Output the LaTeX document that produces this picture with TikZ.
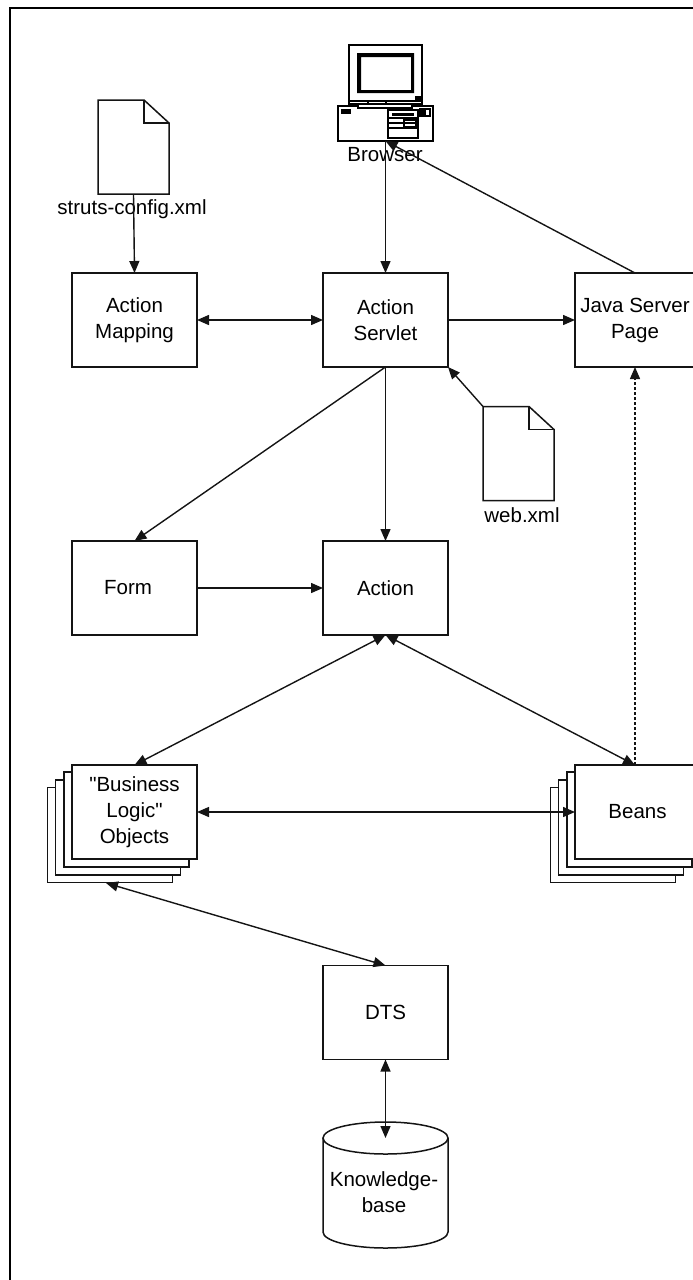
\documentclass[tikz,border=0pt]{standalone}
\usepackage{fontspec}
\setmainfont{Liberation Sans}[Ligatures=TeXOff]
\usetikzlibrary{arrows.meta}
\definecolor{inkline}{RGB}{20,20,20}

% outline of a sheet with a folded corner, drawn round a named node
\newcommand{\foldsheet}[1]{
	\draw[sheetline] (#1.north west) -- ++(46,0) -- ++(25,23) |- (#1.south west) -- cycle;
	\draw[sheetline] (#1.north west) ++(46,0) -- ++(0,23) -- ++(25,0);
}

\begin{document}
\begin{tikzpicture}[
		x=1pt, y=-1pt,
		every node/.style={font=\fontsize{20.5}{26}\selectfont, align=center, inner sep=0pt, outer sep=0pt},
		boxnode/.style={shape=rectangle, draw=inkline, line width=1.5pt, fill=white, minimum width=125pt, minimum height=94pt},
		cardnode/.style={boxnode, minimum height=95pt},
		sheetnode/.style={shape=rectangle, minimum width=71pt, minimum height=94pt},
		sheetline/.style={draw=inkline, line width=1.5pt, line join=miter},
		towards/.style={draw=inkline, line width=1.4pt, -{Triangle[length=12pt,width=10pt]}},
		bothways/.style={draw=inkline, line width=1.4pt, {Triangle[length=12pt,width=10pt]}-{Triangle[length=12pt,width=10pt]}},
		pcline/.style={draw=black, line width=1.2pt}
		]
		\useasboundingbox (0,0) rectangle (693,1280);
		\draw[black, line width=2.2pt] (10,1280) -- (10,8) -- (693,8);

		% browser
		\node[minimum width=95pt, minimum height=96pt] (pc) at (385.5,93) {};
		\draw[pcline] (349,45) rectangle (422,104);
		\draw[pcline] (349,101) -- (422,101);
		\draw[pcline] (368,101) -- (368,104) (386,101) -- (386,104);
		\fill[black, even odd rule] (357,53) rectangle (414,93) (361,57) rectangle (411,90);
		\fill[black] (415,96) rectangle (421,100);
		\draw[pcline] (338,106) rectangle (433,141);
		\draw[pcline, fill=white] (358,104) rectangle (412,108);
		\fill[black] (341,109) rectangle (351,114);
		\draw[pcline] (388,110) rectangle (418,138);
		\fill[black] (392,113) rectangle (414,116);
		\draw[pcline] (388,118) -- (418,118) (388,123) -- (418,123) (388,128) -- (418,128);
		\draw[pcline] (404,120) rectangle (416,127);
		\draw[pcline] (420,109) rectangle (430,116);
		\fill[black] (421,110) rectangle (426,115);
		\node (browser) at (385,155) {Browser};

		% xml sheets
		\node[sheetnode] (struts) at (133.5,147) {};
		\foldsheet{struts}
		\node (strutslabel) at (132,209) {struts-config.xml};
		\node[sheetnode] (webxml) at (518.5,453.5) {};
		\foldsheet{webxml}
		\node (weblabel) at (522,515) {web.xml};

		% main boxes
		\node[boxnode] (mapping) at (134.5,320) {Action\\Mapping};
		\node[boxnode] (servlet) at (385.5,320) {Action\\Servlet};
		\node[boxnode] (jsp) at (637.5,320) {\hspace*{-5pt}Java Server\\\hspace*{-5pt}Page};
		\node[boxnode] (form) at (134.5,588) {Form\hspace*{13pt}};
		\node[boxnode] (action) at (385.5,588) {Action};
		\node[boxnode] (dts) at (385.5,1012.5) {DTS};
		\coordinate (jsptop) at (635,273);
		\coordinate (jspfoot) at (635,367);

		% stacked cards
		\foreach \i in {3,2,1} {
			\node[cardnode] (objects\i) at (134.5-8.2*\i,812+7.7*\i) {};
			\node[cardnode] (beans\i) at (637.5-8.2*\i,812+7.7*\i) {};
		}
		\node[boxnode] (objects) at (134.5,812) {"Business\\Logic"\\Objects};
		\node[boxnode] (beans) at (637.5,812) {Beans};
		\coordinate (objectsfoot) at (106,883);
		\coordinate (beanstop) at (635,765);

		% knowledge base
		\node[minimum width=125pt, minimum height=126pt] (kbase) at (385.5,1185) {};
		\draw[sheetline] (kbase.north west) ++(0,16) -- ++(0,94)
			arc[start angle=180, end angle=360, x radius=62.5pt, y radius=16pt] -- ++(0,-94);
		\draw[sheetline] (385.5,1138) ellipse[x radius=62.5pt, y radius=16pt];
		\coordinate (kbasetop) at (385.5,1138);
		\node (kbaselabel) at (384,1192) {Knowledge-\\base};

		% connectors
		\draw[towards] (pc.south) -- (servlet.north);
		\draw[towards] (jsptop) -- (pc.south);
		\draw[towards] (struts.south) -- (mapping.north);
		\draw[bothways] (mapping.east) -- (servlet.west);
		\draw[towards] (servlet.east) -- (jsp.west);
		\draw[towards] (webxml.north west) -- (servlet.south east);
		\draw[towards] (servlet.south) -- (form.north);
		\draw[towards] (servlet.south) -- (action.north);
		\draw[towards] (form.east) -- (action.west);
		\draw[bothways] (action.south) -- (objects.north);
		\draw[bothways] (action.south) -- (beanstop);
		\draw[towards, dash pattern=on 3pt off 2pt] (beanstop) -- (jspfoot);
		\draw[bothways] (objects.east) -- (beans.west);
		\draw[bothways] (objectsfoot) -- (dts.north);
		\draw[bothways] (dts.south) -- (kbasetop);
	\end{tikzpicture}
\end{document}
